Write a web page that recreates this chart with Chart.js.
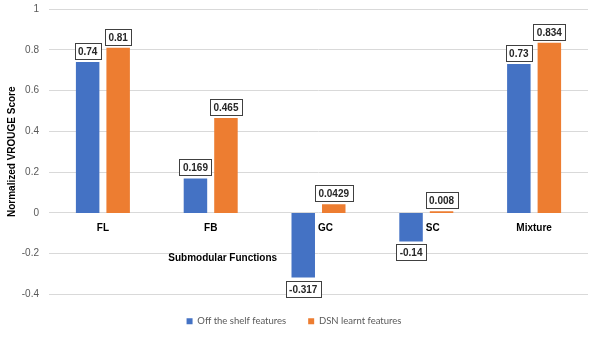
<!DOCTYPE html>
<html>
<head>
<meta charset="utf-8">
<script src="https://cdn.jsdelivr.net/npm/chart.js@4.4.1/dist/chart.umd.min.js"></script>
<style>
  html, body { margin: 0; padding: 0; background: #fff; }
  #wrap { width: 598px; height: 349px; }
</style>
</head>
<body>
<div id="wrap"><canvas id="bar-chart"></canvas></div>
<script>
var categories = ['FL', 'FB', 'GC', 'SC', 'Mixture'];
var offShelf = [0.74, 0.169, -0.317, -0.14, 0.73];
var dsnLearnt = [0.81, 0.465, 0.0429, 0.008, 0.834];
var seriesNames = ['Off the shelf features', 'DSN learnt features'];
var xTitle = 'Submodular Functions';
var yTitle = 'Normalized VROUGE Score';

var FONT = "'Liberation Sans', Arial, sans-serif";
var LEGEND_FONT = "Lato, 'Liberation Sans', sans-serif";

// boxed value labels, category names next to the zero line, x title
var valueBoxes = {
    id: 'valueBoxes',
    afterDatasetsDraw: function(chart){
        var ctx = chart.ctx;
        var xs = chart.scales.x, ys = chart.scales.y;
        var zero = ys.getPixelForValue(0);
        ctx.save();
        ctx.textBaseline = 'middle';

        // category names: centred, or pushed right of a bar that hangs below zero
        ctx.font = 'bold 10px ' + FONT;
        ctx.fillStyle = '#000';
        categories.forEach(function(c, j){
            var blue = chart.getDatasetMeta(0).data[j];
            if (offShelf[j] < 0) {
                ctx.textAlign = 'left';
                ctx.fillText(c, blue.x + blue.width / 2 + 3, zero + 15);
            } else {
                ctx.textAlign = 'center';
                ctx.fillText(c, xs.getPixelForValue(j), zero + 15);
            }
        });

        ctx.textAlign = 'center';
        chart.data.datasets.forEach(function(ds, i){
            chart.getDatasetMeta(i).data.forEach(function(bar, j){
                var v = ds.data[j];
                var txt = String(v);
                var w = Math.round(ctx.measureText(txt).width) + 7;
                var h = 16;
                var x = Math.round(bar.x - w / 2) + 0.5;
                var y = v >= 0 ? Math.round(bar.y - 3 - h) + 0.5 : Math.round(bar.y + 3) + 0.5;
                ctx.fillStyle = '#fff';
                ctx.fillRect(x, y, w, h);
                ctx.strokeStyle = '#404040';
                ctx.lineWidth = 1;
                ctx.strokeRect(x, y, w, h);
                ctx.fillStyle = '#262626';
                ctx.fillText(txt, bar.x, y + h / 2 + 0.5);
            });
        });

        // axis title sits inside the plot, left of GC
        ctx.fillStyle = '#000';
        ctx.fillText(xTitle, xs.getPixelForValue(1) + 12, ys.getPixelForValue(-0.22));
        ctx.restore();
    }
};

window.onload = function(){
    new Chart(document.getElementById('bar-chart'), {
        type: 'bar',
        data: {
            labels: categories,
            datasets: [{
                label: seriesNames[0],
                data: offShelf,
                backgroundColor: '#4472C4'
            }, {
                label: seriesNames[1],
                data: dsnLearnt,
                backgroundColor: '#ED7D31'
            }]
        },
        options: {
            responsive: true,
            maintainAspectRatio: false,
            animation: false,
            categoryPercentage: 0.566,
            barPercentage: 0.77,
            layout: { padding: { top: 9, right: 10, bottom: 13, left: 0 } },
            plugins: {
                legend: {
                    position: 'bottom',
                    labels: {
                        boxWidth: 6,
                        boxHeight: 6,
                        padding: 22,
                        color: '#595959',
                        font: { family: LEGEND_FONT, size: 9.5 }
                    }
                },
                tooltip: { enabled: false }
            },
            scales: {
                x: {
                    display: false
                },
                y: {
                    min: -0.4,
                    max: 1,
                    afterFit: function(scale){
                        scale.width = 49;
                        scale.paddingTop = 0;
                        scale.paddingBottom = 0;
                    },
                    grid: { color: '#d9d9d9', drawTicks: false },
                    border: { display: false },
                    ticks: {
                        stepSize: 0.2,
                        padding: 10,
                        color: '#595959',
                        font: { family: FONT, size: 10 },
                        callback: function(v){ return String(Math.round(v * 10) / 10); }
                    },
                    title: {
                        display: true,
                        text: yTitle,
                        color: '#000',
                        padding: { top: 6, bottom: 0 },
                        font: { family: FONT, size: 10, weight: 'bold' }
                    }
                }
            }
        },
        plugins: [valueBoxes]
    });
};
</script>
</body>
</html>
